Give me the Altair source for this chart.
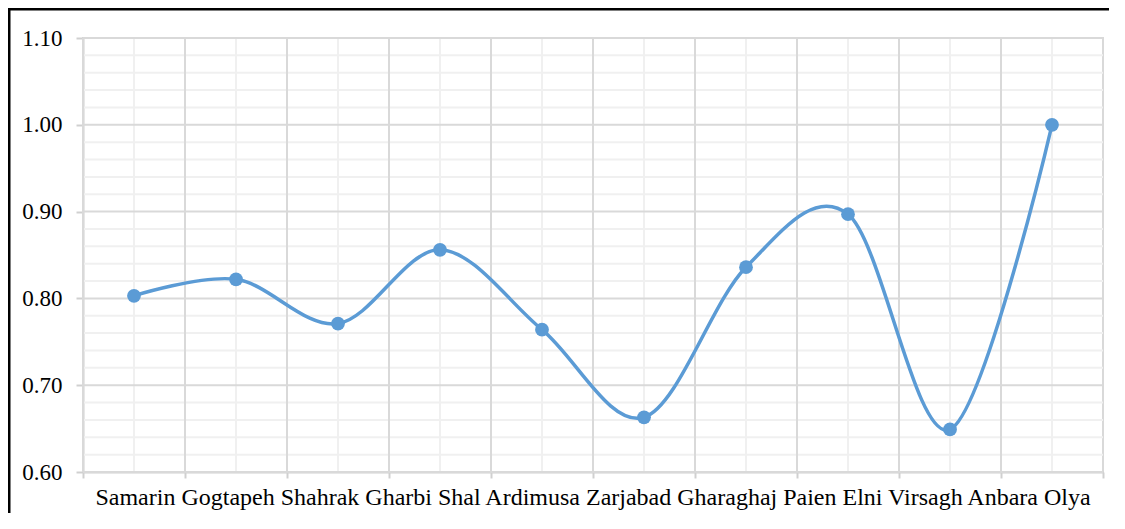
import altair as alt
import pandas as pd

categories = ["Samarin", "Gogtapeh", "Shahrak Gharbi", "Shal", "Ardimusa",
              "Zarjabad", "Gharaghaj Paien", "Elni", "Virsagh", "Anbara Olya"]
values = [0.803, 0.822, 0.771, 0.856, 0.764, 0.663, 0.836, 0.897, 0.649, 1.000]
major_y = [0.6, 0.7, 0.8, 0.9, 1.0, 1.1]
minor_y = [0.62, 0.64, 0.66, 0.68, 0.72, 0.74, 0.76, 0.78, 0.82, 0.84,
           0.86, 0.88, 0.92, 0.94, 0.96, 0.98, 1.02, 1.04, 1.06, 1.08]

df = pd.DataFrame({"cat": categories, "val": values})
label_df = pd.DataFrame({"label": [" ".join(categories)]})
frame_df = pd.DataFrame({"k": [0]})

BLUE = "#5B9BD5"
FONT = "Liberation Serif"

xscale = alt.Scale(type="band", paddingInner=0, paddingOuter=0)
yscale = alt.Scale(domain=[0.6, 1.1], nice=False, zero=False)
xaxis = alt.Axis(labels=False, tickBand="extent", tickSize=6, title=None,
                 domainColor="#d0d0d0", tickColor="#d0d0d0", domainWidth=2, tickWidth=2, grid=False)
yaxis = alt.Axis(values=major_y, format=".2f", tickSize=7, labelPadding=14, title=None,
                 domainColor="#d0d0d0", tickColor="#d0d0d0", domainWidth=2, tickWidth=2,
                 labelFont=FONT, labelFontSize=23, labelColor="black", grid=False)


def xc(bp):
    return alt.X("cat:N", sort=categories, scale=xscale, bandPosition=bp, axis=xaxis, title=None)


def yv(field):
    return alt.Y(field, scale=yscale, axis=yaxis, title=None)


minor_h = alt.Chart(pd.DataFrame({"v": minor_y})).mark_rule(color="#f0f0f0", strokeWidth=2).encode(y=yv("v:Q"))
minor_v = alt.Chart(df).mark_rule(color="#f0f0f0", strokeWidth=2).encode(x=xc(0.5))
major_h = alt.Chart(pd.DataFrame({"v": major_y})).mark_rule(color="#d9d9d9", strokeWidth=2).encode(y=yv("v:Q"))
major_v = alt.Chart(df).mark_rule(color="#d9d9d9", strokeWidth=2).encode(x=xc(0))

line = alt.Chart(df).mark_line(interpolate="cardinal", color=BLUE, strokeWidth=3.5).encode(
    x=xc(0.5), y=yv("val:Q"))
points = alt.Chart(df).mark_circle(size=190, color=BLUE, opacity=1).encode(
    x=xc(0.5), y=yv("val:Q"))

labels = alt.Chart(label_df).mark_text(font=FONT, fontSize=24, color="black",
                                       align="center", baseline="alphabetic").encode(
    text="label:N", x=alt.value(510), y=alt.value(467))

frame = alt.Chart(frame_df).mark_rect(fill=None, stroke="black", strokeWidth=3).encode(
    x=alt.value(-74), x2=alt.value(1200), y=alt.value(-29), y2=alt.value(600))

chart = alt.layer(minor_h, minor_v, major_h, major_v, line, points, labels, frame).properties(
    width=1020, height=434,
    padding={"left": 75, "top": 30, "right": 6, "bottom": 41},
    autosize=alt.AutoSizeParams(type="none"),
).configure_view(stroke="#d9d9d9", strokeWidth=2).configure_axis(grid=False)

chart.save("out.html", embed_options={"renderer": "svg", "actions": False})
